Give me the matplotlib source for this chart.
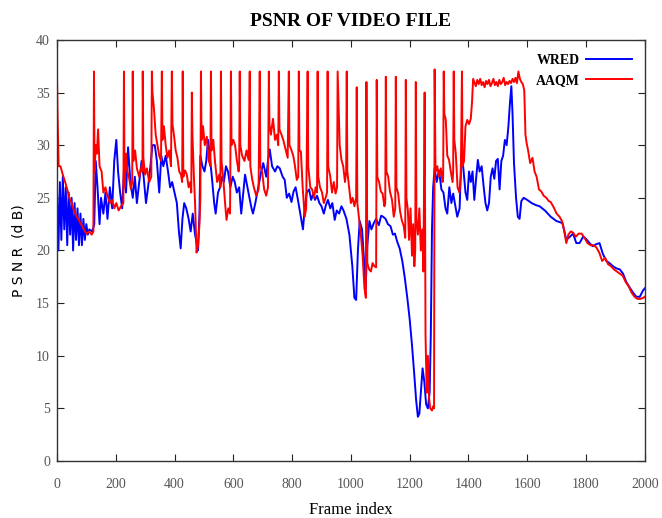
import matplotlib
matplotlib.use("Agg")
import matplotlib.pyplot as plt

# WRED (blue) - frame index / PSNR
wred_frames = [0, 5, 10, 15, 20, 25, 30, 35, 40, 45, 50, 55, 60, 65, 70, 75, 80, 85, 90, 95,
               100, 105, 110, 120, 127, 132, 138, 145, 150, 158, 165, 172, 180, 188, 195, 202, 208, 215, 222, 228,
               235, 242, 250, 258, 265, 272, 280, 288, 295, 303, 310, 318, 325, 333, 340, 348, 355, 362, 370, 378,
               385, 392, 400, 408, 415, 421, 427, 433, 440, 448, 455, 462, 470, 480, 485, 488, 495, 502, 508, 514,
               520, 527, 535, 540, 548, 555, 562, 568, 575, 582, 590, 598, 605, 612, 620, 627, 634, 640, 648, 655,
               662, 667, 675, 685, 695, 702, 712, 718, 724, 732, 742, 750, 758, 768, 775, 782, 790, 798, 805, 812,
               820, 828, 837, 843, 850, 858, 865, 872, 878, 885, 893, 900, 908, 915, 922, 930, 937, 945, 952, 960,
               968, 975, 985, 995, 1005, 1012, 1018, 1024, 1030, 1038, 1045, 1050, 1056, 1063, 1070, 1078, 1086, 1095, 1103, 1110,
               1118, 1126, 1135, 1143, 1150, 1158, 1166, 1175, 1183, 1192, 1200, 1208, 1215, 1222, 1228, 1233, 1238, 1244, 1250, 1256,
               1262, 1268, 1272, 1276, 1280, 1285, 1292, 1300, 1308, 1315, 1322, 1328, 1335, 1342, 1348, 1355, 1362, 1370, 1376, 1382,
               1390, 1396, 1402, 1408, 1414, 1420, 1426, 1432, 1438, 1445, 1452, 1458, 1464, 1470, 1476, 1482, 1488, 1494, 1500, 1506,
               1512, 1518, 1524, 1530, 1536, 1541, 1546, 1550, 1555, 1562, 1568, 1574, 1580, 1588, 1600, 1615, 1630, 1642, 1660, 1680,
               1699, 1720, 1733, 1745, 1756, 1767, 1778, 1790, 1800, 1812, 1823, 1835, 1846, 1857, 1869, 1880, 1892, 1903, 1915, 1926,
               1937, 1948, 1960, 1971, 1983, 1994, 2000]
wred_psnr = [26.0, 20.0, 26.5, 21.0, 27.0, 22.0, 26.0, 20.5, 25.5, 21.5, 25.0, 20.0, 24.5, 21.0, 24.0, 20.5, 23.5, 20.5, 23.0, 21.0,
             22.5, 21.5, 22.0, 21.8, 22.5, 28.5, 26.0, 22.5, 25.0, 23.5, 25.5, 23.0, 26.0, 24.0, 28.5, 30.5, 27.5, 25.5, 24.0, 27.5,
             25.5, 29.8, 26.5, 25.0, 27.0, 24.5, 26.5, 28.5, 27.0, 24.5, 26.0, 28.0, 30.0, 30.0, 28.5, 25.5, 29.0, 28.0, 29.0, 27.5,
             26.0, 26.5, 25.5, 24.5, 21.8, 20.2, 23.0, 24.5, 24.0, 23.0, 21.8, 23.5, 21.5, 20.0, 23.5, 29.0, 28.0, 27.5, 28.5, 30.5,
             29.0, 27.0, 24.5, 23.5, 25.5, 26.0, 27.0, 26.5, 28.0, 27.5, 26.0, 27.0, 26.5, 25.5, 26.0, 23.5, 25.5, 27.2, 26.0, 25.0,
             24.0, 23.5, 24.5, 26.0, 27.5, 28.3, 27.0, 28.5, 29.6, 28.0, 27.5, 28.0, 27.8, 27.0, 26.7, 25.0, 25.4, 24.6, 25.6, 26.0,
             24.8, 23.5, 22.0, 24.0, 25.5, 25.8, 24.8, 25.4, 24.8, 25.2, 24.5, 24.2, 23.5, 24.3, 24.8, 24.0, 24.5, 22.9, 23.8, 23.5,
             24.2, 23.8, 23.0, 21.5, 18.5, 15.5, 15.3, 20.0, 22.8, 22.0, 19.0, 16.3, 20.5, 22.8, 22.0, 22.6, 23.0, 22.4, 23.3, 23.2,
             23.0, 22.5, 22.3, 21.5, 21.6, 20.8, 20.2, 19.0, 17.5, 15.5, 13.5, 11.0, 8.5, 5.8, 4.2, 4.5, 6.5, 8.8, 7.5, 5.4,
             5.0, 6.5, 12.0, 22.0, 26.0, 27.8, 26.5, 27.6, 25.8, 25.5, 24.0, 23.5, 26.0, 24.5, 25.4, 24.3, 23.2, 24.0, 29.0, 28.0,
             25.5, 24.8, 27.5, 26.5, 27.5, 24.8, 26.8, 28.6, 27.5, 28.0, 26.0, 24.5, 23.8, 24.5, 27.0, 27.8, 26.8, 28.5, 28.7, 25.8,
             28.5, 29.0, 30.5, 30.0, 31.8, 33.9, 35.6, 33.0, 28.3, 25.0, 23.2, 23.0, 24.7, 25.0, 24.8, 24.5, 24.3, 24.2, 23.8, 23.2,
             22.8, 22.6, 21.0, 21.3, 21.6, 20.7, 20.7, 21.3, 21.1, 20.7, 20.4, 20.6, 20.7, 19.7, 19.0, 18.8, 18.5, 18.3, 18.2, 17.8,
             17.0, 16.5, 16.0, 15.6, 15.6, 16.2, 16.4]

# AAQM (red)
aaqm_frames = [0, 2, 6, 12, 20, 28, 35, 42, 50, 58, 65, 72, 80, 88, 95, 102, 110, 118, 124, 126,
               128, 132, 136, 140, 145, 152, 158, 165, 172, 180, 188, 195, 202, 210, 218, 226, 228, 230, 235, 240,
               246, 252, 256, 258, 260, 266, 272, 280, 288, 291, 292, 294, 300, 306, 314, 321, 323, 325, 330, 336,
               342, 348, 354, 357, 359, 364, 370, 376, 382, 388, 391, 393, 398, 404, 410, 416, 422, 426, 428, 430,
               436, 442, 448, 454, 457, 459, 461, 466, 470, 475, 480, 485, 488, 490, 492, 497, 503, 510, 516, 522,
               524, 526, 532, 538, 545, 552, 556, 558, 560, 566, 572, 577, 583, 589, 592, 594, 600, 606, 612, 618,
               620, 622, 624, 630, 638, 645, 652, 656, 658, 664, 670, 678, 686, 690, 692, 698, 705, 712, 718, 721,
               723, 728, 735, 742, 748, 753, 755, 757, 764, 770, 778, 785, 789, 791, 797, 804, 810, 816, 821, 823,
               825, 830, 836, 843, 848, 853, 855, 862, 868, 875, 880, 885, 887, 889, 895, 902, 908, 914, 919, 921,
               923, 930, 936, 942, 948, 953, 955, 957, 962, 968, 974, 980, 984, 986, 988, 994, 1000, 1006, 1012, 1018,
               1020, 1022, 1028, 1034, 1040, 1046, 1051, 1053, 1056, 1062, 1068, 1074, 1080, 1086, 1088, 1090, 1096, 1102, 1108, 1114,
               1117, 1119, 1121, 1127, 1133, 1140, 1146, 1151, 1153, 1155, 1161, 1167, 1173, 1180, 1185, 1187, 1189, 1194, 1198, 1203,
               1208, 1212, 1216, 1219, 1221, 1223, 1228, 1233, 1238, 1243, 1247, 1251, 1254, 1258, 1262, 1266, 1270, 1276, 1280, 1283,
               1285, 1288, 1294, 1300, 1306, 1312, 1314, 1316, 1318, 1323, 1328, 1334, 1340, 1346, 1348, 1350, 1352, 1357, 1363, 1369,
               1374, 1378, 1380, 1385, 1390, 1396, 1402, 1408, 1412, 1416, 1420, 1425, 1430, 1435, 1440, 1445, 1450, 1455, 1460, 1465,
               1470, 1475, 1480, 1485, 1490, 1495, 1500, 1505, 1510, 1515, 1520, 1525, 1530, 1535, 1540, 1545, 1550, 1555, 1560, 1565,
               1570, 1575, 1580, 1585, 1590, 1594, 1598, 1603, 1610, 1618, 1625, 1632, 1640, 1648, 1656, 1665, 1673, 1680, 1690, 1700,
               1710, 1718, 1725, 1733, 1740, 1748, 1756, 1765, 1775, 1785, 1795, 1805, 1815, 1825, 1835, 1845, 1855, 1865, 1875, 1885,
               1895, 1905, 1915, 1925, 1935, 1945, 1955, 1965, 1975, 1985, 1995, 2000]
aaqm_psnr = [37.0, 33.0, 28.0, 28.0, 27.2, 26.5, 25.8, 25.0, 24.5, 23.8, 23.3, 23.0, 22.6, 22.2, 21.8, 21.6, 21.8, 21.5, 21.8, 37.0,
             27.5, 30.0, 29.2, 31.5, 28.0, 27.5, 25.5, 26.0, 25.2, 24.5, 24.8, 24.0, 24.5, 23.8, 24.2, 24.5, 37.0, 26.0, 29.2, 27.5,
             26.8, 25.8, 26.5, 37.0, 28.5, 29.5, 27.8, 27.0, 28.0, 27.5, 37.0, 28.8, 27.2, 27.8, 26.5, 27.0, 37.0, 35.0, 33.5, 31.0,
             30.0, 29.0, 28.5, 37.0, 30.5, 31.8, 30.0, 28.8, 29.5, 28.0, 37.0, 32.0, 31.0, 29.5, 28.8, 27.5, 27.2, 26.5, 37.0, 27.0,
             27.6, 27.2, 26.0, 26.5, 25.5, 35.0, 31.0, 27.0, 24.5, 19.8, 20.5, 22.5, 25.0, 37.0, 30.5, 31.8, 30.0, 30.8, 28.6, 28.0,
             37.0, 29.5, 30.5, 28.4, 26.5, 27.2, 26.0, 37.0, 28.5, 26.8, 24.5, 22.9, 24.0, 23.5, 37.0, 30.0, 30.5, 30.0, 28.6, 27.5,
             28.0, 37.0, 30.0, 29.0, 28.5, 29.5, 28.6, 37.0, 28.0, 26.8, 26.0, 25.2, 25.8, 37.0, 28.0, 27.5, 25.8, 25.2, 26.0, 37.0,
             32.0, 31.0, 32.5, 30.5, 31.0, 30.0, 37.0, 31.5, 31.0, 30.5, 29.6, 28.8, 37.0, 30.0, 29.6, 29.0, 28.0, 26.7, 27.0, 37.0,
             29.5, 29.4, 26.0, 23.2, 24.0, 37.0, 28.0, 26.0, 25.8, 25.0, 26.0, 25.5, 37.0, 27.0, 26.0, 25.5, 24.5, 25.0, 25.5, 37.0,
             28.0, 27.0, 25.5, 26.5, 25.4, 26.0, 37.0, 35.0, 30.0, 28.6, 28.0, 26.5, 27.5, 37.0, 27.5, 26.0, 24.5, 25.0, 24.2, 25.0,
             35.5, 24.5, 23.0, 21.5, 19.5, 16.5, 15.5, 36.0, 18.8, 18.2, 18.0, 18.8, 18.5, 18.4, 36.2, 27.0, 26.5, 25.6, 25.4, 24.2,
             24.5, 36.5, 27.5, 27.0, 25.6, 24.8, 23.2, 24.0, 36.5, 26.0, 25.4, 23.8, 22.9, 22.3, 21.2, 36.2, 25.0, 23.8, 21.0, 24.0,
             19.5, 22.5, 18.5, 20.0, 36.0, 23.0, 21.5, 24.0, 20.0, 22.0, 18.0, 35.0, 12.0, 6.5, 10.0, 6.0, 5.0, 4.8, 5.2, 5.0,
             37.2, 27.5, 28.0, 27.0, 27.8, 26.5, 27.0, 37.0, 33.0, 32.4, 29.0, 28.6, 27.5, 26.5, 27.5, 37.0, 30.5, 29.2, 26.0, 25.5,
             27.0, 37.0, 28.0, 28.5, 31.8, 32.4, 32.0, 32.5, 34.0, 36.3, 36.0, 35.6, 36.2, 35.8, 36.3, 35.7, 36.0, 35.5, 36.1, 35.8,
             36.2, 35.6, 35.9, 36.3, 35.7, 36.0, 35.6, 36.2, 35.8, 36.0, 36.4, 35.7, 36.0, 35.8, 36.1, 35.9, 36.3, 36.0, 36.4, 35.9,
             37.0, 36.3, 36.0, 35.8, 35.2, 31.0, 30.2, 29.5, 28.3, 28.8, 27.5, 27.0, 25.8, 25.6, 25.2, 25.0, 24.7, 24.6, 24.1, 23.5,
             23.2, 22.8, 22.0, 20.7, 21.5, 21.8, 21.7, 21.3, 21.6, 21.6, 21.2, 20.7, 20.5, 20.5, 20.3, 19.8, 19.0, 19.3, 18.7, 18.5,
             18.2, 18.0, 17.8, 17.6, 17.0, 16.6, 16.0, 15.6, 15.4, 15.4, 15.5, 15.6]

x_ticks = [0, 200, 400, 600, 800, 1000, 1200, 1400, 1600, 1800, 2000]
y_ticks = [0, 5, 10, 15, 20, 25, 30, 35, 40]

fig = plt.figure(figsize=(6.62, 5.18), dpi=100)
ax = fig.add_axes([0.086, 0.110, 0.888, 0.813])

ax.plot(wred_frames, wred_psnr, color="#0000ff", lw=1.4, label="WRED")
ax.plot(aaqm_frames, aaqm_psnr, color="#ff0000", lw=1.4, label="AAQM")

ax.set_xlim(0, 2000)
ax.set_ylim(0, 40)
ax.set_xticks(x_ticks)
ax.set_yticks(y_ticks)
ax.tick_params(direction="in", top=True, right=True, length=5, width=0.8,
               labelsize=10, labelcolor="#555555", color="#222222")
ax.tick_params(axis="x", pad=12)
ax.tick_params(axis="y", pad=5)
for lab in ax.get_xticklabels() + ax.get_yticklabels():
    lab.set_family("Liberation Serif")
for s in ax.spines.values():
    s.set_color("#333333")
    s.set_linewidth(1.0)

ax.set_title("PSNR OF VIDEO FILE", fontsize=14, fontweight="bold", family="Liberation Serif", pad=10)
ax.set_xlabel("Frame index", fontsize=12, family="Liberation Serif", labelpad=8)
ax.set_ylabel("P S N R  (d B)", fontsize=10, family="DejaVu Sans", labelpad=8)

leg = ax.legend(loc="upper right", bbox_to_anchor=(0.988, 0.98), frameon=False, markerfirst=False,
                prop={"family": "Liberation Serif", "weight": "bold", "size": 10},
                handlelength=3.3, handletextpad=0.5, borderaxespad=0.0, labelspacing=0.5)

fig.savefig("out.png", dpi=100)
